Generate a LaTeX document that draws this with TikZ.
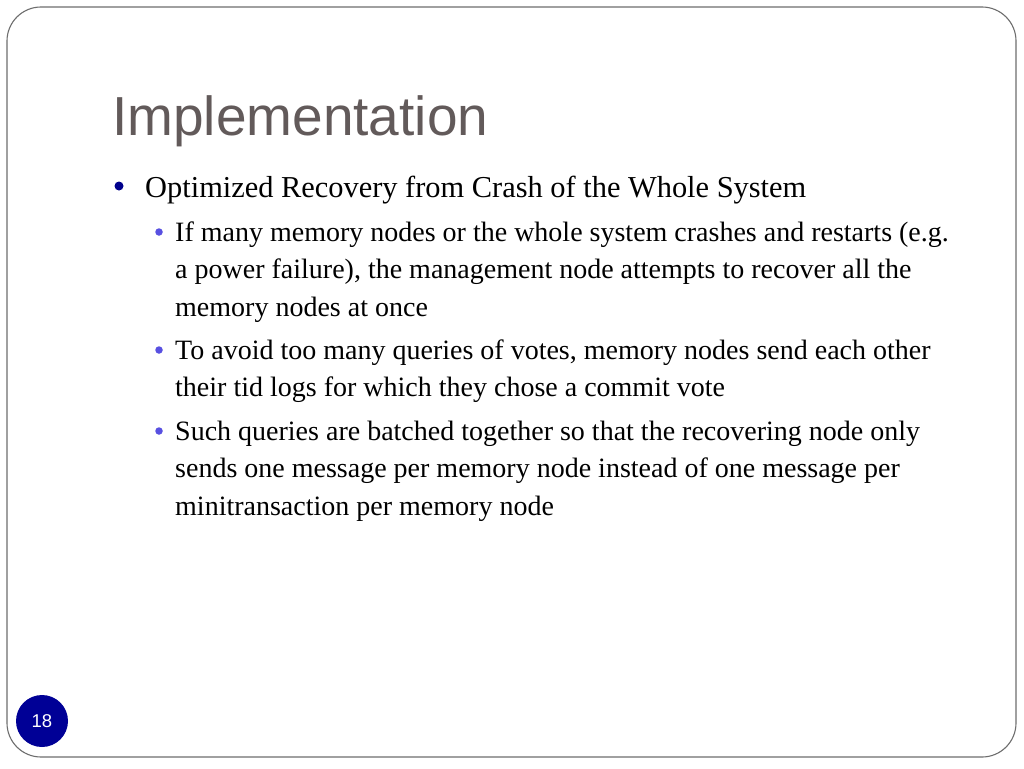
\documentclass[tikz,border=0pt]{standalone}
\usepackage{fontspec}
\setmainfont{Liberation Serif}
\newfontfamily\titlefont{Liberation Sans}
\definecolor{titlegray}{RGB}{98,90,90}
\definecolor{frame}{RGB}{110,110,110}
\definecolor{navy}{RGB}{0,0,140}
\definecolor{subblue}{RGB}{88,80,225}
\definecolor{pagedisk}{RGB}{0,0,150}
\def\lskip{37.5} % line distance of the sub items
\begin{document}
\begin{tikzpicture}[x=1pt,y=-1pt, line join=round, line cap=round,
  dotone/.style={circle,fill=navy,inner sep=0pt,minimum size=9pt},
  dottwo/.style={circle,fill=subblue,inner sep=0pt,minimum size=7.5pt},
  levone/.style={anchor=base west,inner sep=0pt,font=\fontsize{30.4}{36}\selectfont},
  levtwo/.style={anchor=base west,inner sep=0pt,font=\fontsize{28}{34}\selectfont}]
\useasboundingbox (0,0) rectangle (1024,768);
\fill[white] (0,0) rectangle (1024,768);
\draw[frame, line width=1.1pt, rounded corners=34pt] (7,7) rectangle (1016,757);
% title
\node[anchor=base west, inner sep=0pt, text=titlegray, font=\titlefont\fontsize{55}{60}\selectfont] (title) at (112,135) {Implementation};
% bullets
\node[dotone] (b1) at (119,186) {};
\node[levone] (t1) at (145,197) {Optimized Recovery from Crash of the Whole System};
\node[dottwo] (b2) at (159,232) {};
\foreach \ln [count=\k from 0] in {{If many memory nodes or the whole system crashes and restarts (e.g.},
  {a power failure), the management node attempts to recover all the},
  {memory nodes at once}}
  \node[levtwo] (t2-\k) at (175,241+\lskip*\k) {\ln};
\node[dottwo] (b3) at (159,350) {};
\foreach \ln [count=\k from 0] in {{To avoid too many queries of votes, memory nodes send each other},
  {their tid logs for which they chose a commit vote}}
  \node[levtwo] (t3-\k) at (175,359+\lskip*\k) {\ln};
\node[dottwo] (b4) at (159,431) {};
\foreach \ln [count=\k from 0] in {{Such queries are batched together so that the recovering node only},
  {sends one message per memory node instead of one message per},
  {minitransaction per memory node}}
  \node[levtwo] (t4-\k) at (175,440+\lskip*\k) {\ln};
% page number
\node[circle, fill=pagedisk, minimum size=52pt, inner sep=0pt, text=white, font=\titlefont\fontsize{18.5}{20}\selectfont] (page) at (42,721) {18};
\end{tikzpicture}
\end{document}
